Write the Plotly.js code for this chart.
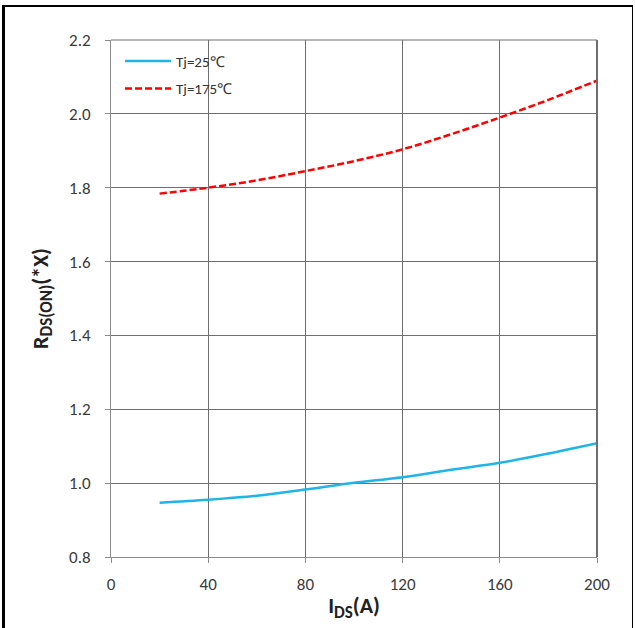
<!DOCTYPE html>
<html>
<head>
<meta charset="utf-8">
<script src="https://cdn.plot.ly/plotly-3.0.1.min.js"></script>
<style>
  html, body { margin: 0; padding: 0; background: #fff; }
  #wrap { position: relative; width: 635px; height: 628px; overflow: hidden; }
  #chart { width: 635px; height: 628px; }
  #frame { position: absolute; left: 2px; top: 5px; width: 627px; height: 640px;
           border-left: 3px solid #000; border-top: 2px solid #000; border-right: 1px solid #000;
           pointer-events: none; }
</style>
</head>
<body>
<div id="wrap">
  <div id="chart"></div>
  <div id="frame"></div>
</div>
<script>
// Data
const currentA = [20, 40, 60, 80, 100, 120, 140, 160, 180, 200];
const rds25  = [0.947, 0.955, 0.966, 0.983, 1.001, 1.016, 1.036, 1.055, 1.080, 1.108];
const rds175 = [1.784, 1.800, 1.820, 1.845, 1.872, 1.904, 1.945, 1.990, 2.038, 2.090];
const seriesNames = ["Tj=25℃", "Tj=175℃"];
const xTicks = [0, 40, 80, 120, 160, 200];
const yTicks = [0.8, 1.0, 1.2, 1.4, 1.6, 1.8, 2.0, 2.2];

const font = "Carlito, Calibri, 'Liberation Sans', Arial, sans-serif";

const traces = [
  { x: currentA, y: rds25, name: seriesNames[0], mode: "lines", line: { color: "#1fb4ea", width: 2.5, shape: "spline" }, legendgroup: "a" },
  { x: currentA, y: rds175, name: seriesNames[1], mode: "lines", line: { color: "#ff0000", width: 2.5, dash: "7px,3px", shape: "spline" }, legendgroup: "b" }
];

const layout = {
  width: 635, height: 628,
  margin: { l: 111, r: 38, t: 40, b: 71 },
  paper_bgcolor: "#fff", plot_bgcolor: "#fff",
  font: { family: font, size: 14, color: "#333" },
  showlegend: true,
  legend: { x: 0.0185, y: 0.991, xanchor: "left", yanchor: "top", bgcolor: "rgba(0,0,0,0)",
            font: { size: 15, color: "#333" }, tracegroupgap: 5, traceorder: "grouped", itemwidth: 46 },
  xaxis: {
    range: [0, 200], tickvals: xTicks, ticktext: xTicks.map(String),
    showgrid: true, gridcolor: "#6e6e6e", gridwidth: 1,
    showline: true, linecolor: "#8c8c8c", linewidth: 1,
    ticks: "outside", ticklen: 5, tickcolor: "#8c8c8c", ticklabelstandoff: 7,
    zeroline: false, tickfont: { size: 17, color: "#3a3a3a" },
    title: { text: "<b>I<sub><span style='font-size:17px'>DS</span></sub>(A)</b>", font: { size: 22, color: "#222" }, standoff: 3 }
  },
  yaxis: {
    range: [0.8, 2.2], tickvals: yTicks, ticktext: yTicks.map(v => v.toFixed(1)),
    showgrid: true, gridcolor: "#6e6e6e", gridwidth: 1,
    showline: true, linecolor: "#8c8c8c", linewidth: 1, mirror: false,
    ticks: "outside", ticklen: 5, tickcolor: "#8c8c8c", ticklabelstandoff: 11,
    zeroline: false, tickfont: { size: 17, color: "#3a3a3a" },
    title: { text: "<b>R<sub><span style='font-size:17px'>DS(ON)</span></sub>(*X)</b>", font: { size: 22, color: "#222" }, standoff: 14 }
  },
  shapes: [
    { type: "line", xref: "paper", yref: "paper", x0: 1, x1: 1, y0: 0, y1: 1, line: { color: "#6e6e6e", width: 2 } },
    { type: "line", xref: "paper", yref: "paper", x0: 0, x1: 1, y0: 1, y1: 1, line: { color: "#6e6e6e", width: 1 } }
  ]
};

Plotly.newPlot("chart", traces, layout, { displayModeBar: false, staticPlot: true });
</script>
</body>
</html>
